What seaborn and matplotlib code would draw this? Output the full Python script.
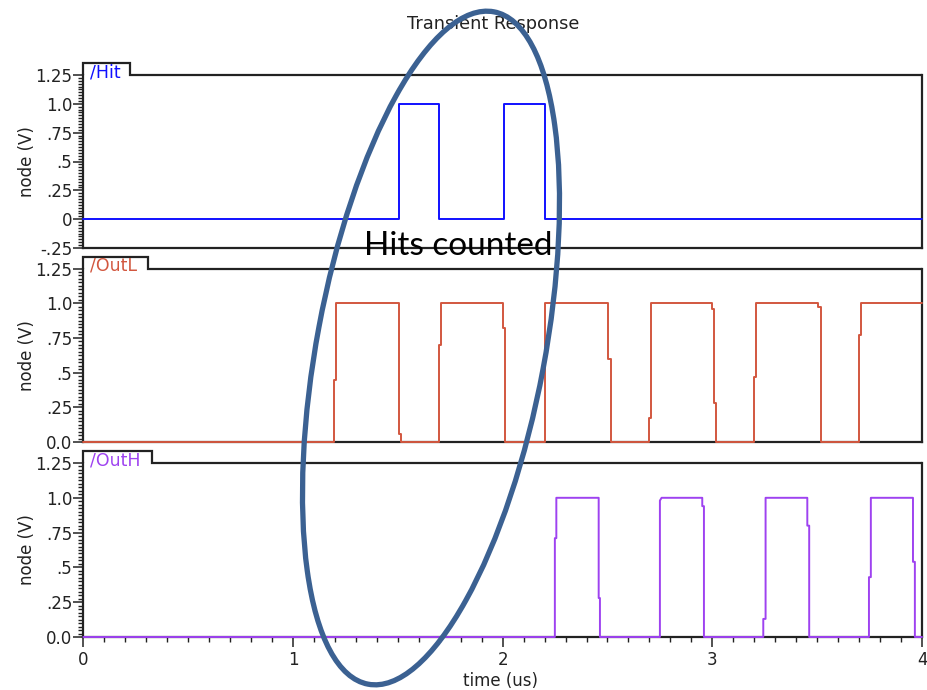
import matplotlib
matplotlib.use("Agg")
import matplotlib.pyplot as plt
import seaborn as sns
from matplotlib.patches import Ellipse
from matplotlib.lines import Line2D
from matplotlib.ticker import MultipleLocator

# ---- data (time in us, voltage in V) ----
hit_t = [0, 1.505, 1.505, 1.697, 1.697, 2.006, 2.006, 2.202, 2.202, 4.0]
hit_v = [0, 0, 1, 1, 0, 0, 1, 1, 0, 0]

outl_t = [0, 1.197, 1.197, 1.205, 1.205, 1.507, 1.507, 1.515, 1.515,
          1.698, 1.698, 1.706, 1.706, 2.001, 2.001, 2.010, 2.010,
          2.202, 2.202, 2.502, 2.502, 2.515, 2.515,
          2.698, 2.698, 2.706, 2.706, 2.998, 2.998, 3.009, 3.009, 3.016, 3.016,
          3.198, 3.198, 3.206, 3.206, 3.505, 3.505, 3.516, 3.516,
          3.700, 3.700, 3.710, 3.710, 4.0]
outl_v = [0, 0, 0.45, 0.45, 1, 1, 0.06, 0.06, 0,
          0, 0.70, 0.70, 1, 1, 0.82, 0.82, 0,
          0, 1, 1, 0.60, 0.60, 0,
          0, 0.17, 0.17, 1, 1, 0.96, 0.96, 0.28, 0.28, 0,
          0, 0.47, 0.47, 1, 1, 0.97, 0.97, 0,
          0, 0.77, 0.77, 1, 1]

outh_t = [0, 2.249, 2.249, 2.256, 2.256, 2.458, 2.458, 2.464, 2.464,
          2.750, 2.750, 2.758, 2.952, 2.952, 2.960, 2.960,
          3.243, 3.243, 3.254, 3.254, 3.453, 3.453, 3.462, 3.462,
          3.747, 3.747, 3.756, 3.756, 3.957, 3.957, 3.966, 3.966, 4.0]
outh_v = [0, 0, 0.71, 0.71, 1, 1, 0.28, 0.28, 0,
          0, 0.98, 1, 1, 0.94, 0.94, 0,
          0, 0.13, 0.13, 1, 1, 0.80, 0.80, 0,
          0, 0.43, 0.43, 1, 1, 0.54, 0.54, 0, 0]

signal_names = ["/Hit", "/OutL", "/OutH"]
signal_colors = ["#1010FF", "#D2573F", "#9E42F0"]

yticks_top = [-0.25, 0, 0.25, 0.5, 0.75, 1.0, 1.25]
yticklabels_top = ["-.25", "0", ".25", ".5", ".75", "1.0", "1.25"]
yticks_low = [0, 0.25, 0.5, 0.75, 1.0, 1.25]
yticklabels_low = ["0.0", ".25", ".5", ".75", "1.0", "1.25"]
xticks = [0, 1, 2, 3, 4]
xticklabels = ["0", "1", "2", "3", "4"]

sns.set_style("ticks")
plt.rcParams['font.family'] = ['DejaVu Sans']

W, H = 928, 690
fig = plt.figure(figsize=(W / 100, H / 100), dpi=100)
LEFT, RIGHT = 83.3, 922.0

panels = [  # (top px, bottom px, tab right px)
    (75, 248, 130),
    (268.5, 442, 148),
    (463, 637, 152),
]
series = [(hit_t, hit_v), (outl_t, outl_v), (outh_t, outh_v)]

FS = 12
INK = '#222222'
for i, ((top, bot, tabr), (t, v)) in enumerate(zip(panels, series)):
    ax = fig.add_axes([LEFT / W, 1 - bot / H, (RIGHT - LEFT) / W, (bot - top) / H])
    sns.lineplot(x=t, y=v, ax=ax, sort=False, estimator=None,
                 color=signal_colors[i], linewidth=1.4, zorder=3, clip_on=False)
    ax.set_xlim(0, 4)
    if i == 0:
        ax.set_ylim(-0.25, 1.25)
        ax.set_yticks(yticks_top)
        ax.set_yticklabels(yticklabels_top)
    else:
        ax.set_ylim(0, 1.25)
        ax.set_yticks(yticks_low)
        ax.set_yticklabels(yticklabels_low)
    ax.yaxis.set_minor_locator(MultipleLocator(0.025))
    ax.tick_params(axis='y', which='major', length=7, width=1.1, pad=1,
                   labelsize=FS, direction='out', colors=INK)
    ax.tick_params(axis='y', which='minor', length=3.5, width=1.0, direction='out',
                   colors=INK)
    if i < 2:
        ax.tick_params(axis='x', which='both', bottom=False, labelbottom=False)
    else:
        ax.set_xticks(xticks)
        ax.set_xticklabels(xticklabels)
        ax.xaxis.set_minor_locator(MultipleLocator(0.1))
        ax.tick_params(axis='x', which='major', length=7, width=1.1, pad=3,
                       labelsize=FS, colors=INK)
        ax.tick_params(axis='x', which='minor', length=3.5, width=1.0, colors=INK)
    ax.set_xlabel("")
    ax.set_ylabel("")
    for name, s in ax.spines.items():
        s.set_visible(name != 'top')
        s.set_color(INK)
        s.set_linewidth(1.6)
    ax.grid(False)

    # tab + top border of the panel
    tab_top = top - 12
    fig.add_artist(Line2D([LEFT / W, LEFT / W, tabr / W, tabr / W, RIGHT / W],
                          [1 - top / H, 1 - tab_top / H, 1 - tab_top / H,
                           1 - top / H, 1 - top / H],
                          transform=fig.transFigure, color=INK, linewidth=1.6,
                          solid_joinstyle='miter', zorder=4))
    fig.text(90 / W, 1 - (top + 2.5) / H, signal_names[i], color=signal_colors[i],
             ha='left', va='baseline', fontsize=FS + 0.5, zorder=5)
    fig.text(27 / W, 1 - ((top + bot) / 2) / H, "node (V)", rotation=90,
             ha='center', va='center', fontsize=FS, color=INK)

fig.text(493 / W, 1 - 24 / H, "Transient Response", ha='center', va='center',
         fontsize=FS + 0.8, color=INK)
fig.text(501 / W, 1 - 681 / H, "time (us)", ha='center', va='center',
         fontsize=FS, color=INK)

fig.text(458.5 / W, 1 - 255 / H, "Hits counted", ha='center', va='baseline',
         fontsize=24, family=['Lato', 'DejaVu Sans'], color='black', zorder=20)

fig.add_artist(Ellipse((4.31, 3.42), 6.84, 2.28, angle=79.4,
                       transform=fig.dpi_scale_trans, fill=False,
                       edgecolor='#3B6192', linewidth=3.8, zorder=30))

fig.savefig("out.png", dpi=100)
